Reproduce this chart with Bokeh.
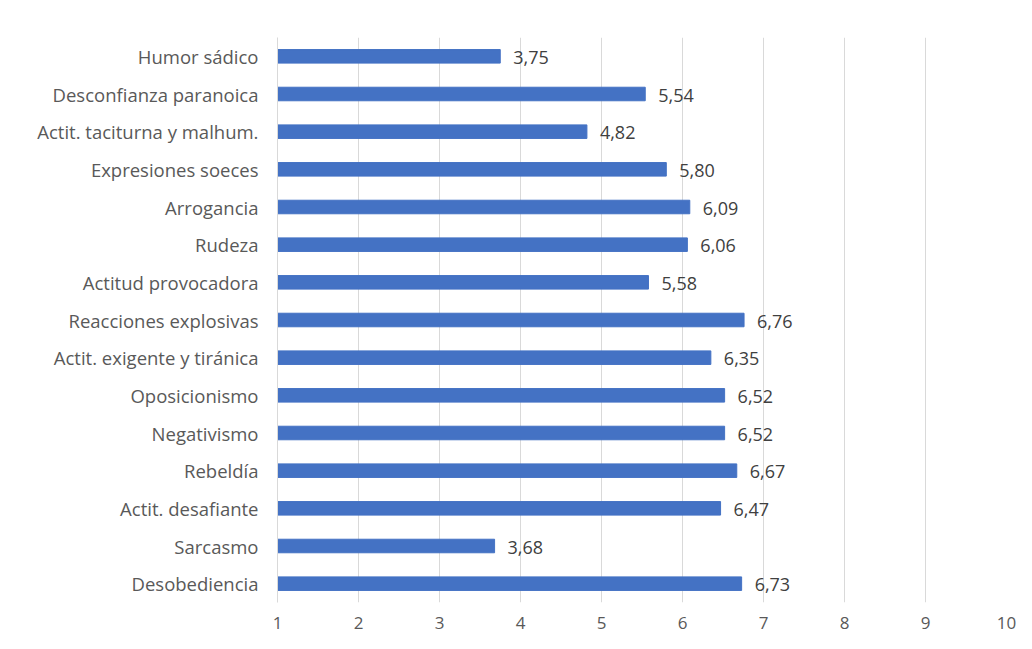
from bokeh.plotting import figure
from bokeh.models import Range1d, FactorRange, ColumnDataSource, FixedTicker
from bokeh.core.properties import value
from bokeh.embed import file_html
from bokeh.resources import INLINE

categories = [
    "Humor sádico",
    "Desconfianza paranoica",
    "Actit. taciturna y malhum.",
    "Expresiones soeces",
    "Arrogancia",
    "Rudeza",
    "Actitud provocadora",
    "Reacciones explosivas",
    "Actit. exigente y tiránica",
    "Oposicionismo",
    "Negativismo",
    "Rebeldía",
    "Actit. desafiante",
    "Sarcasmo",
    "Desobediencia",
]
values = [3.75, 5.54, 4.82, 5.80, 6.09, 6.06, 5.58, 6.76, 6.35, 6.52, 6.52, 6.67, 6.47, 3.68, 6.73]
x_ticks = [1, 2, 3, 4, 5, 6, 7, 8, 9, 10]
axis_start = 1

labels = [f"{v:.2f}".replace(".", ",") for v in values]
src = ColumnDataSource(dict(cat=categories, val=values, lab=labels,
                            base=[axis_start] * len(values)))

FONT = "Open Sans"

p = figure(width=1016, height=633, output_backend="svg", toolbar_location=None,
           y_range=FactorRange(factors=list(reversed(categories))),
           x_range=Range1d(x_ticks[0], x_ticks[-1]),
           min_border_left=277, min_border_right=10, min_border_top=37, min_border_bottom=31)

p.hbar(y="cat", left="base", right="val", height=0.36, color="#4472C4", source=src)
p.text(x="val", y="cat", text="lab", source=src, x_offset=13, y_offset=1,
       text_align="left", text_baseline="middle", text_font=value(FONT),
       text_font_size="18px", text_color="#404040")

p.outline_line_color = None
p.background_fill_color = "white"
p.border_fill_color = "white"
p.ygrid.grid_line_color = None
p.xgrid.grid_line_color = "#d9d9d9"
p.xgrid.grid_line_width = 1

p.xaxis.ticker = FixedTicker(ticks=x_ticks)
p.xaxis.axis_line_color = None
p.xaxis.major_tick_line_color = None
p.xaxis.minor_tick_line_color = None
p.xaxis.major_label_standoff = 8
p.xaxis.major_label_text_font = FONT
p.xaxis.major_label_text_font_size = "17px"
p.xaxis.major_label_text_color = "#595959"

p.yaxis.axis_line_color = "#d9d9d9"
p.yaxis.major_tick_line_color = None
p.yaxis.minor_tick_line_color = None
p.yaxis.major_label_standoff = 13
p.yaxis.major_label_text_font = FONT
p.yaxis.major_label_text_font_size = "18.5px"
p.yaxis.major_label_text_color = "#595959"

open("out.html", "w").write(file_html(p, INLINE))
